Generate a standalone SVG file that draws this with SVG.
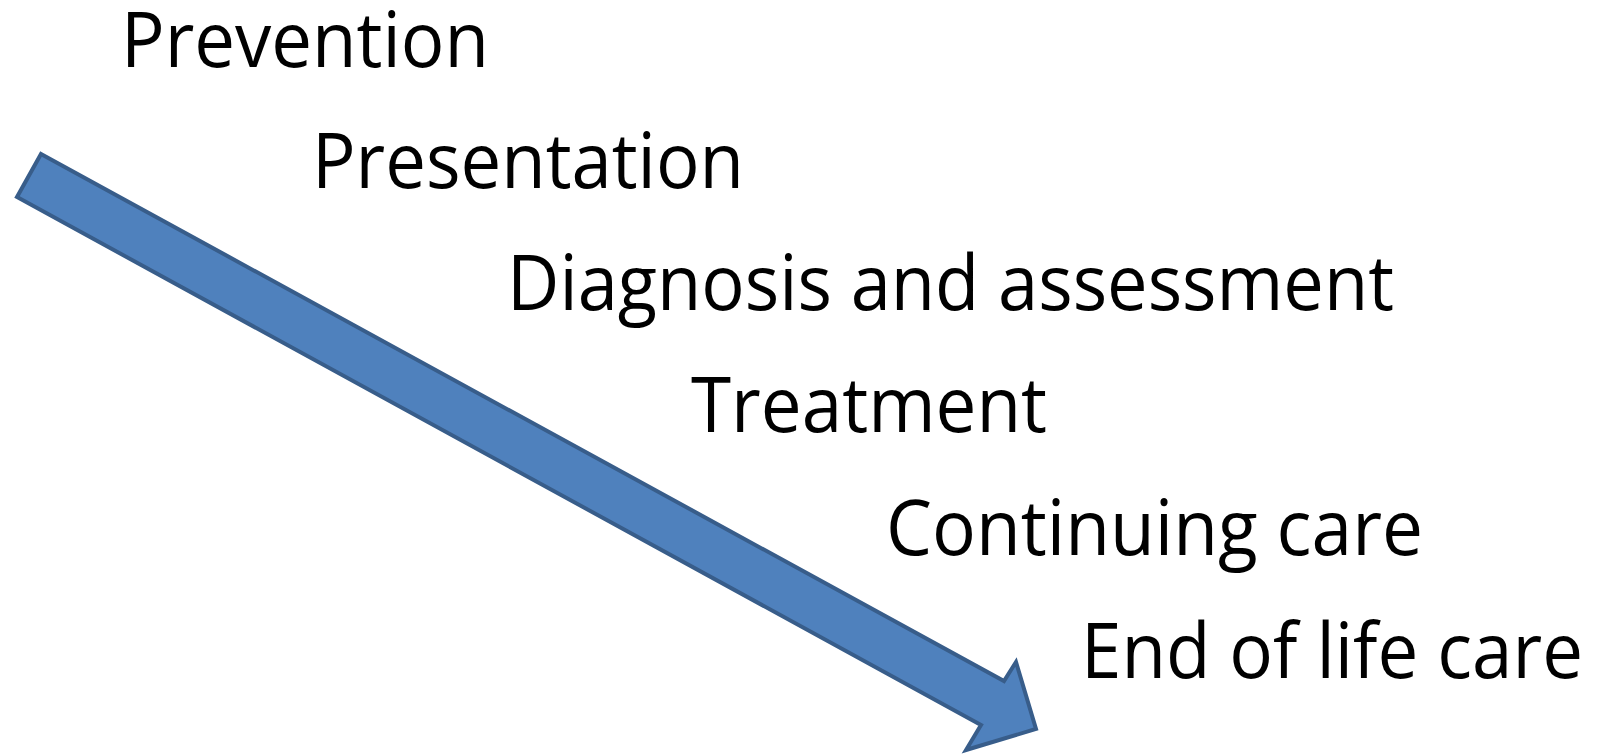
<svg xmlns="http://www.w3.org/2000/svg" width="1605" height="754" viewBox="0 0 1605 754">
<style>
.lbl{font-family:"Open Sans","Liberation Sans",sans-serif;font-size:76px;fill:#000;}
.arrow{fill:#4F81BD;stroke:#385D8A;stroke-width:4;stroke-linejoin:miter;}
</style>
<rect width="1605" height="754" fill="#fff"/>
<g id="connectors">
<polygon id="arrow" class="arrow" points="41,154 1004,681 1016,662 1036,729 966,750 981,725 17,197"/>
</g>
<g id="prevention"><text class="lbl" x="121" y="67" textLength="368" lengthAdjust="spacingAndGlyphs">Prevention</text></g>
<g id="presentation"><text class="lbl" x="312" y="188" textLength="432" lengthAdjust="spacingAndGlyphs">Presentation</text></g>
<g id="diagnosis"><text class="lbl" x="507" y="310" textLength="887" lengthAdjust="spacingAndGlyphs">Diagnosis and assessment</text></g>
<g id="treatment"><text class="lbl" x="691" y="432" textLength="356" lengthAdjust="spacingAndGlyphs">Treatment</text></g>
<g id="continuing"><text class="lbl" x="886" y="555" textLength="537" lengthAdjust="spacingAndGlyphs">Continuing care</text></g>
<g id="endoflife"><text class="lbl" x="1081" y="678" textLength="502" lengthAdjust="spacingAndGlyphs">End of life care</text></g>
</svg>
